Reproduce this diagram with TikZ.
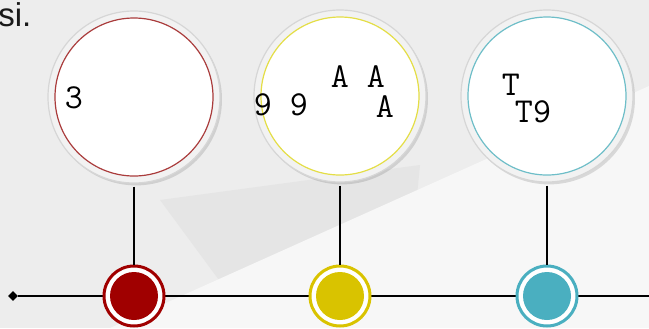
\documentclass[tikz,border=0pt]{standalone}
\usepackage{fontspec}
\setmainfont{Liberation Sans}
\usepackage{tikz}
\usetikzlibrary{positioning,shapes.geometric,shadows}
\definecolor{tlred}{RGB}{160,0,0}
\definecolor{tlyellow}{RGB}{217,195,0}
\definecolor{tlteal}{RGB}{74,175,192}
\definecolor{tlredring}{RGB}{170,60,60}
\definecolor{tlyellowring}{RGB}{228,222,70}
\definecolor{tltealring}{RGB}{110,190,200}
\definecolor{tlbg}{RGB}{237,237,237}
\definecolor{tlbgdark}{RGB}{229,229,229}
\definecolor{tlbglight}{RGB}{247,247,247}
\definecolor{tlrim}{RGB}{214,214,214}

\begin{document}
\begin{tikzpicture}[x=0.5pt,y=-0.5pt,
  tlbig/.style={circle,draw=tlrim,fill=white!95!black,line width=0.6pt,minimum size=86pt,inner sep=0pt,
    drop shadow={shadow xshift=1pt,shadow yshift=-1.2pt,opacity=0.12,fill=black}},
  tlface/.style={circle,fill=white,line width=0.6pt,minimum size=79pt,inner sep=0pt},
  tldot/.style={circle,fill=white,line width=1.5pt,minimum size=30pt,inner sep=0pt},
  tldotin/.style={circle,minimum size=24pt,inner sep=0pt},
  tlmono/.style={font=\fontsize{17.5}{18}\selectfont\ttfamily,inner sep=0pt},
  tlstem/.style={line width=0.6pt,black,shorten <=1.5pt}
]
  % background
  \useasboundingbox (0,0) rectangle (649,328);
  \fill[tlbg] (0,0) rectangle (649,328);
  \fill[tlbgdark] (160,200) -- (420,165) -- (415,215) -- (230,295) -- cycle;
  \fill[tlbglight] (110,328) -- (649,86) -- (649,328) -- cycle;

  % heading (cut off)
  \node[anchor=base west,inner sep=0pt,font=\fontsize{16.5}{18}\selectfont,text=black!90] (head) at (-2,26) {si.};

  % timeline axis
  \node[diamond,fill=black,inner sep=0pt,minimum size=5pt] (start) at (13,296) {};
  \coordinate (tlend) at (649,296);
  \draw[line width=0.7pt] (start) -- (tlend);

  % big circles
  \node[tlbig] (big1) at (134,97) {};
  \node[tlface,draw=tlredring] (face1) at (big1) {};
  \node[tlbig] (big2) at (340,96) {};
  \node[tlface,draw=tlyellowring] (face2) at (big2) {};
  \node[tlbig] (big3) at (547,96) {};
  \node[tlface,draw=tltealring] (face3) at (big3) {};

  % small markers
  \node[tldot,draw=tlred] (dot1) at (134,296) {};
  \node[tldotin,fill=tlred] at (dot1) {};
  \node[tldot,draw=tlyellow] (dot2) at (340,296) {};
  \node[tldotin,fill=tlyellow] at (dot2) {};
  \node[tldot,draw=tlteal] (dot3) at (547,296) {};
  \node[tldotin,fill=tlteal] at (dot3) {};

  % stems
  \draw[tlstem] (big1.south) -- (dot1.north);
  \draw[tlstem] (big2.south) -- (dot2.north);
  \draw[tlstem] (big3.south) -- (dot3.north);

  % circle texts
  \node[tlmono] (t1) at (74,98) {3};
  \node[tlmono] (t2a) at (281,105) {9 9};
  \node[tlmono] (t2b) at (358,77) {A A};
  \node[tlmono] (t2c) at (385,107) {A};
  \node[tlmono] (t3a) at (511,85) {T};
  \node[tlmono] (t3b) at (533,112) {T9};
\end{tikzpicture}
\end{document}
